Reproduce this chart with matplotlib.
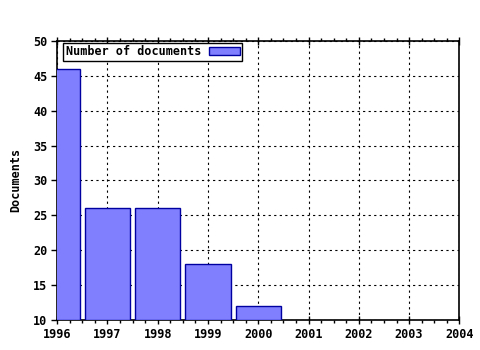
import matplotlib
matplotlib.use("Agg")
import matplotlib.pyplot as plt
from matplotlib.ticker import MultipleLocator

years = [1996, 1997, 1998, 1999, 2000]
documents = [46, 26, 26, 18, 12]
xticks = [1996, 1997, 1998, 1999, 2000, 2001, 2002, 2003, 2004]
yticks = [10, 15, 20, 25, 30, 35, 40, 45, 50]

plt.rcParams['font.family'] = ['DejaVu Sans Mono']
plt.rcParams['font.weight'] = 'bold'
FS = 8.5

fig = plt.figure(figsize=(4.8, 3.5), dpi=100)
ax = fig.add_axes([0.119, 0.086, 0.838, 0.797])

base = yticks[0]
ax.bar(years, [d - base for d in documents], bottom=base, width=0.9,
       color='#8080ff', edgecolor='#0000a0', linewidth=1.0,
       label='Number of documents', zorder=3)

ax.set_xlim(xticks[0], xticks[-1])
ax.set_ylim(yticks[0], yticks[-1])
ax.set_xticks(xticks)
ax.set_xticklabels([str(x) for x in xticks], fontsize=FS, fontweight='bold')
ax.set_yticks(yticks)
ax.set_yticklabels([str(y) for y in yticks], fontsize=FS, fontweight='bold')
ax.xaxis.set_minor_locator(MultipleLocator(0.25))
ax.tick_params(axis='x', which='major', direction='inout', length=6, width=1, top=True, pad=3)
ax.tick_params(axis='x', which='minor', direction='out', length=2, width=1, top=True)
ax.tick_params(axis='y', which='major', direction='out', length=4, width=1, pad=3)

ax.grid(True, which='major', color='black', linestyle=(0, (2, 3)), linewidth=0.8, zorder=1)
ax.set_axisbelow(True)
for s in ax.spines.values():
    s.set_linewidth(1.2)
    s.set_color('black')

ax.set_ylabel('Documents', fontsize=FS, fontweight='bold', labelpad=8)

leg = ax.legend(loc='upper left', bbox_to_anchor=(0.015, 0.993), fontsize=FS,
                frameon=True, fancybox=False,
                edgecolor='black', framealpha=1, borderpad=0.2,
                handlelength=2.6, handleheight=0.6, handletextpad=0.7,
                markerfirst=False, borderaxespad=0.0)
leg.get_frame().set_linewidth(1.0)
for t in leg.get_texts():
    t.set_fontweight('bold')

fig.savefig('out.png', dpi=100)
